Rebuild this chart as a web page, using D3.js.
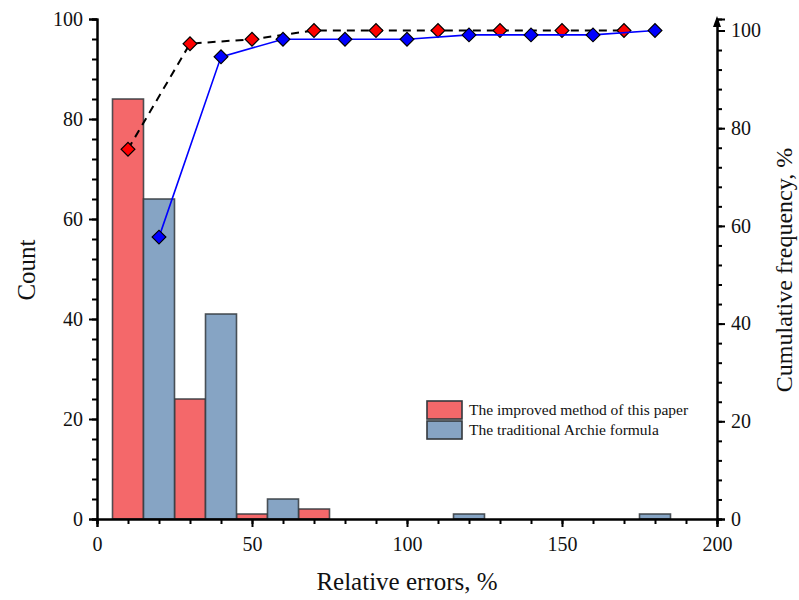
<!DOCTYPE html>
<html>
<head>
<meta charset="utf-8">
<script src="https://cdn.jsdelivr.net/npm/d3@7"></script>
<style>
  body { margin: 0; background: #fff; }
</style>
</head>
<body>
<div id="chart"></div>
<script>
// data
const redBins = [10, 30, 50, 70]
const redCounts = [84, 24, 1, 2]
const blueBins = [20, 40, 60, 120, 180]
const blueCounts = [64, 41, 4, 1, 1]
const redCumX = [10, 30, 50, 70, 90, 110, 130, 150, 170]
const redCum = [75.7, 97.3, 98.2, 100, 100, 100, 100, 100, 100]
const blueCumX = [20, 40, 60, 80, 100, 120, 140, 160, 180]
const blueCum = [57.7, 94.6, 98.2, 98.2, 98.2, 99.1, 99.1, 99.1, 100]
const legendNames = ['The improved method of this paper', 'The traditional Archie formula']
const binWidth = 10

const canvasWidth = 799, canvasHeight = 600
const plotLeft = 97, plotRight = 717, plotTop = 19, plotBottom = 519
const redFill = '#f4686a', blueFill = '#86a4c4'
const serif = "'Liberation Serif', 'Times New Roman', 'DejaVu Serif', serif"

const svg = d3.select('#chart').append('svg')
    .attr('width', canvasWidth)
    .attr('height', canvasHeight)

const x = d3.scaleLinear().domain([0, 200]).range([plotLeft, plotRight])
const yL = d3.scaleLinear().domain([0, 100]).range([plotBottom, plotTop])
const yR = d3.scaleLinear().domain([0, 102.35]).range([plotBottom, plotTop])

// bars
function drawBars(bins, counts, fill) {
    svg.append('g')
        .selectAll('rect')
        .data(bins.map((b, i) => ({ b, c: counts[i] })))
        .enter()
        .append('rect')
        .attr('x', d => x(d.b - binWidth / 2))
        .attr('y', d => yL(d.c))
        .attr('width', d => x(d.b + binWidth / 2) - x(d.b - binWidth / 2))
        .attr('height', d => yL(0) - yL(d.c))
        .attr('fill', fill)
        .attr('stroke', '#33383d')
        .attr('stroke-opacity', 0.85)
        .attr('stroke-width', 1.6)
}
drawBars(redBins, redCounts, redFill)
drawBars(blueBins, blueCounts, blueFill)

// axes
function styleAxis(g) {
    g.attr('font-family', serif)
    g.selectAll('.domain').attr('stroke', '#000').attr('stroke-width', 2)
    g.selectAll('line').attr('stroke', '#000').attr('stroke-width', 2)
    g.selectAll('text').attr('font-size', 20).attr('fill', '#111')
}

const xMinor = svg.append('g')
    .attr('transform', `translate(0,${plotBottom})`)
    .call(d3.axisBottom(x).tickValues(d3.range(0, 201, 10)).tickSize(5).tickFormat(''))
const xAxis = svg.append('g')
    .attr('transform', `translate(0,${plotBottom})`)
    .call(d3.axisBottom(x).tickValues([0, 50, 100, 150, 200]).tickSize(8).tickPadding(10))
styleAxis(xMinor); styleAxis(xAxis)

const yMinor = svg.append('g')
    .attr('transform', `translate(${plotLeft},0)`)
    .call(d3.axisLeft(yL).tickValues(d3.range(0, 101, 4)).tickSize(5).tickFormat(''))
const yAxis = svg.append('g')
    .attr('transform', `translate(${plotLeft},0)`)
    .call(d3.axisLeft(yL).tickValues([0, 20, 40, 60, 80, 100]).tickSize(8).tickPadding(6))
styleAxis(yMinor); styleAxis(yAxis)

const rMinor = svg.append('g')
    .attr('transform', `translate(${plotRight},0)`)
    .call(d3.axisRight(yR).tickValues(d3.range(0, 101, 4)).tickSize(5).tickFormat(''))
const rAxis = svg.append('g')
    .attr('transform', `translate(${plotRight},0)`)
    .call(d3.axisRight(yR).tickValues([0, 20, 40, 60, 80, 100]).tickSize(8).tickPadding(6))
styleAxis(rMinor); styleAxis(rAxis)

// arrow on right axis
svg.append('path')
    .attr('d', `M${plotRight - 4},${plotTop + 8} L${plotRight},${plotTop - 3} L${plotRight + 4},${plotTop + 8} Z`)
    .attr('fill', '#000')

// cumulative lines
const diamond = d3.symbol().type(d3.symbolSquare).size(95)
function drawCum(xs, ys, lineColor, dash, width, markColor) {
    const pts = xs.map((v, i) => [x(v), yR(ys[i])])
    svg.append('path')
        .attr('d', d3.line()(pts))
        .attr('fill', 'none')
        .attr('stroke', lineColor)
        .attr('stroke-width', width)
        .attr('stroke-dasharray', dash)
    svg.append('g')
        .selectAll('path')
        .data(pts)
        .enter()
        .append('path')
        .attr('d', diamond)
        .attr('transform', d => `translate(${d[0]},${d[1]}) rotate(45)`)
        .attr('fill', markColor)
        .attr('stroke', '#000')
        .attr('stroke-width', 1.2)
}
drawCum(redCumX, redCum, '#000', '8,6', 2, '#ff0000')
drawCum(blueCumX, blueCum, '#0000ff', null, 1.6, '#0000ff')

// legend
const legend = svg.append('g').attr('transform', 'translate(427,401)')
legendNames.forEach((name, i) => {
    legend.append('rect')
        .attr('x', 0).attr('y', i * 20)
        .attr('width', 35).attr('height', 18)
        .attr('fill', i === 0 ? redFill : blueFill)
        .attr('stroke', '#33383d')
        .attr('stroke-width', 1.6)
    legend.append('text')
        .attr('x', 42).attr('y', i * 20 + 14)
        .attr('font-size', 15.5)
        .text(name)
})

// titles
svg.append('text')
    .attr('x', 407).attr('y', 590)
    .attr('text-anchor', 'middle')
    .attr('font-size', 25)
    .text('Relative errors, %')

svg.append('text')
    .attr('transform', 'translate(35,270) rotate(-90)')
    .attr('text-anchor', 'middle')
    .attr('font-size', 25)
    .text('Count')

svg.append('text')
    .attr('transform', 'translate(792,270) rotate(-90)')
    .attr('text-anchor', 'middle')
    .attr('font-size', 24)
    .text('Cumulative frequency, %')

svg.selectAll('text').style('font-family', serif).attr('fill', '#111')
</script>
</body>
</html>
